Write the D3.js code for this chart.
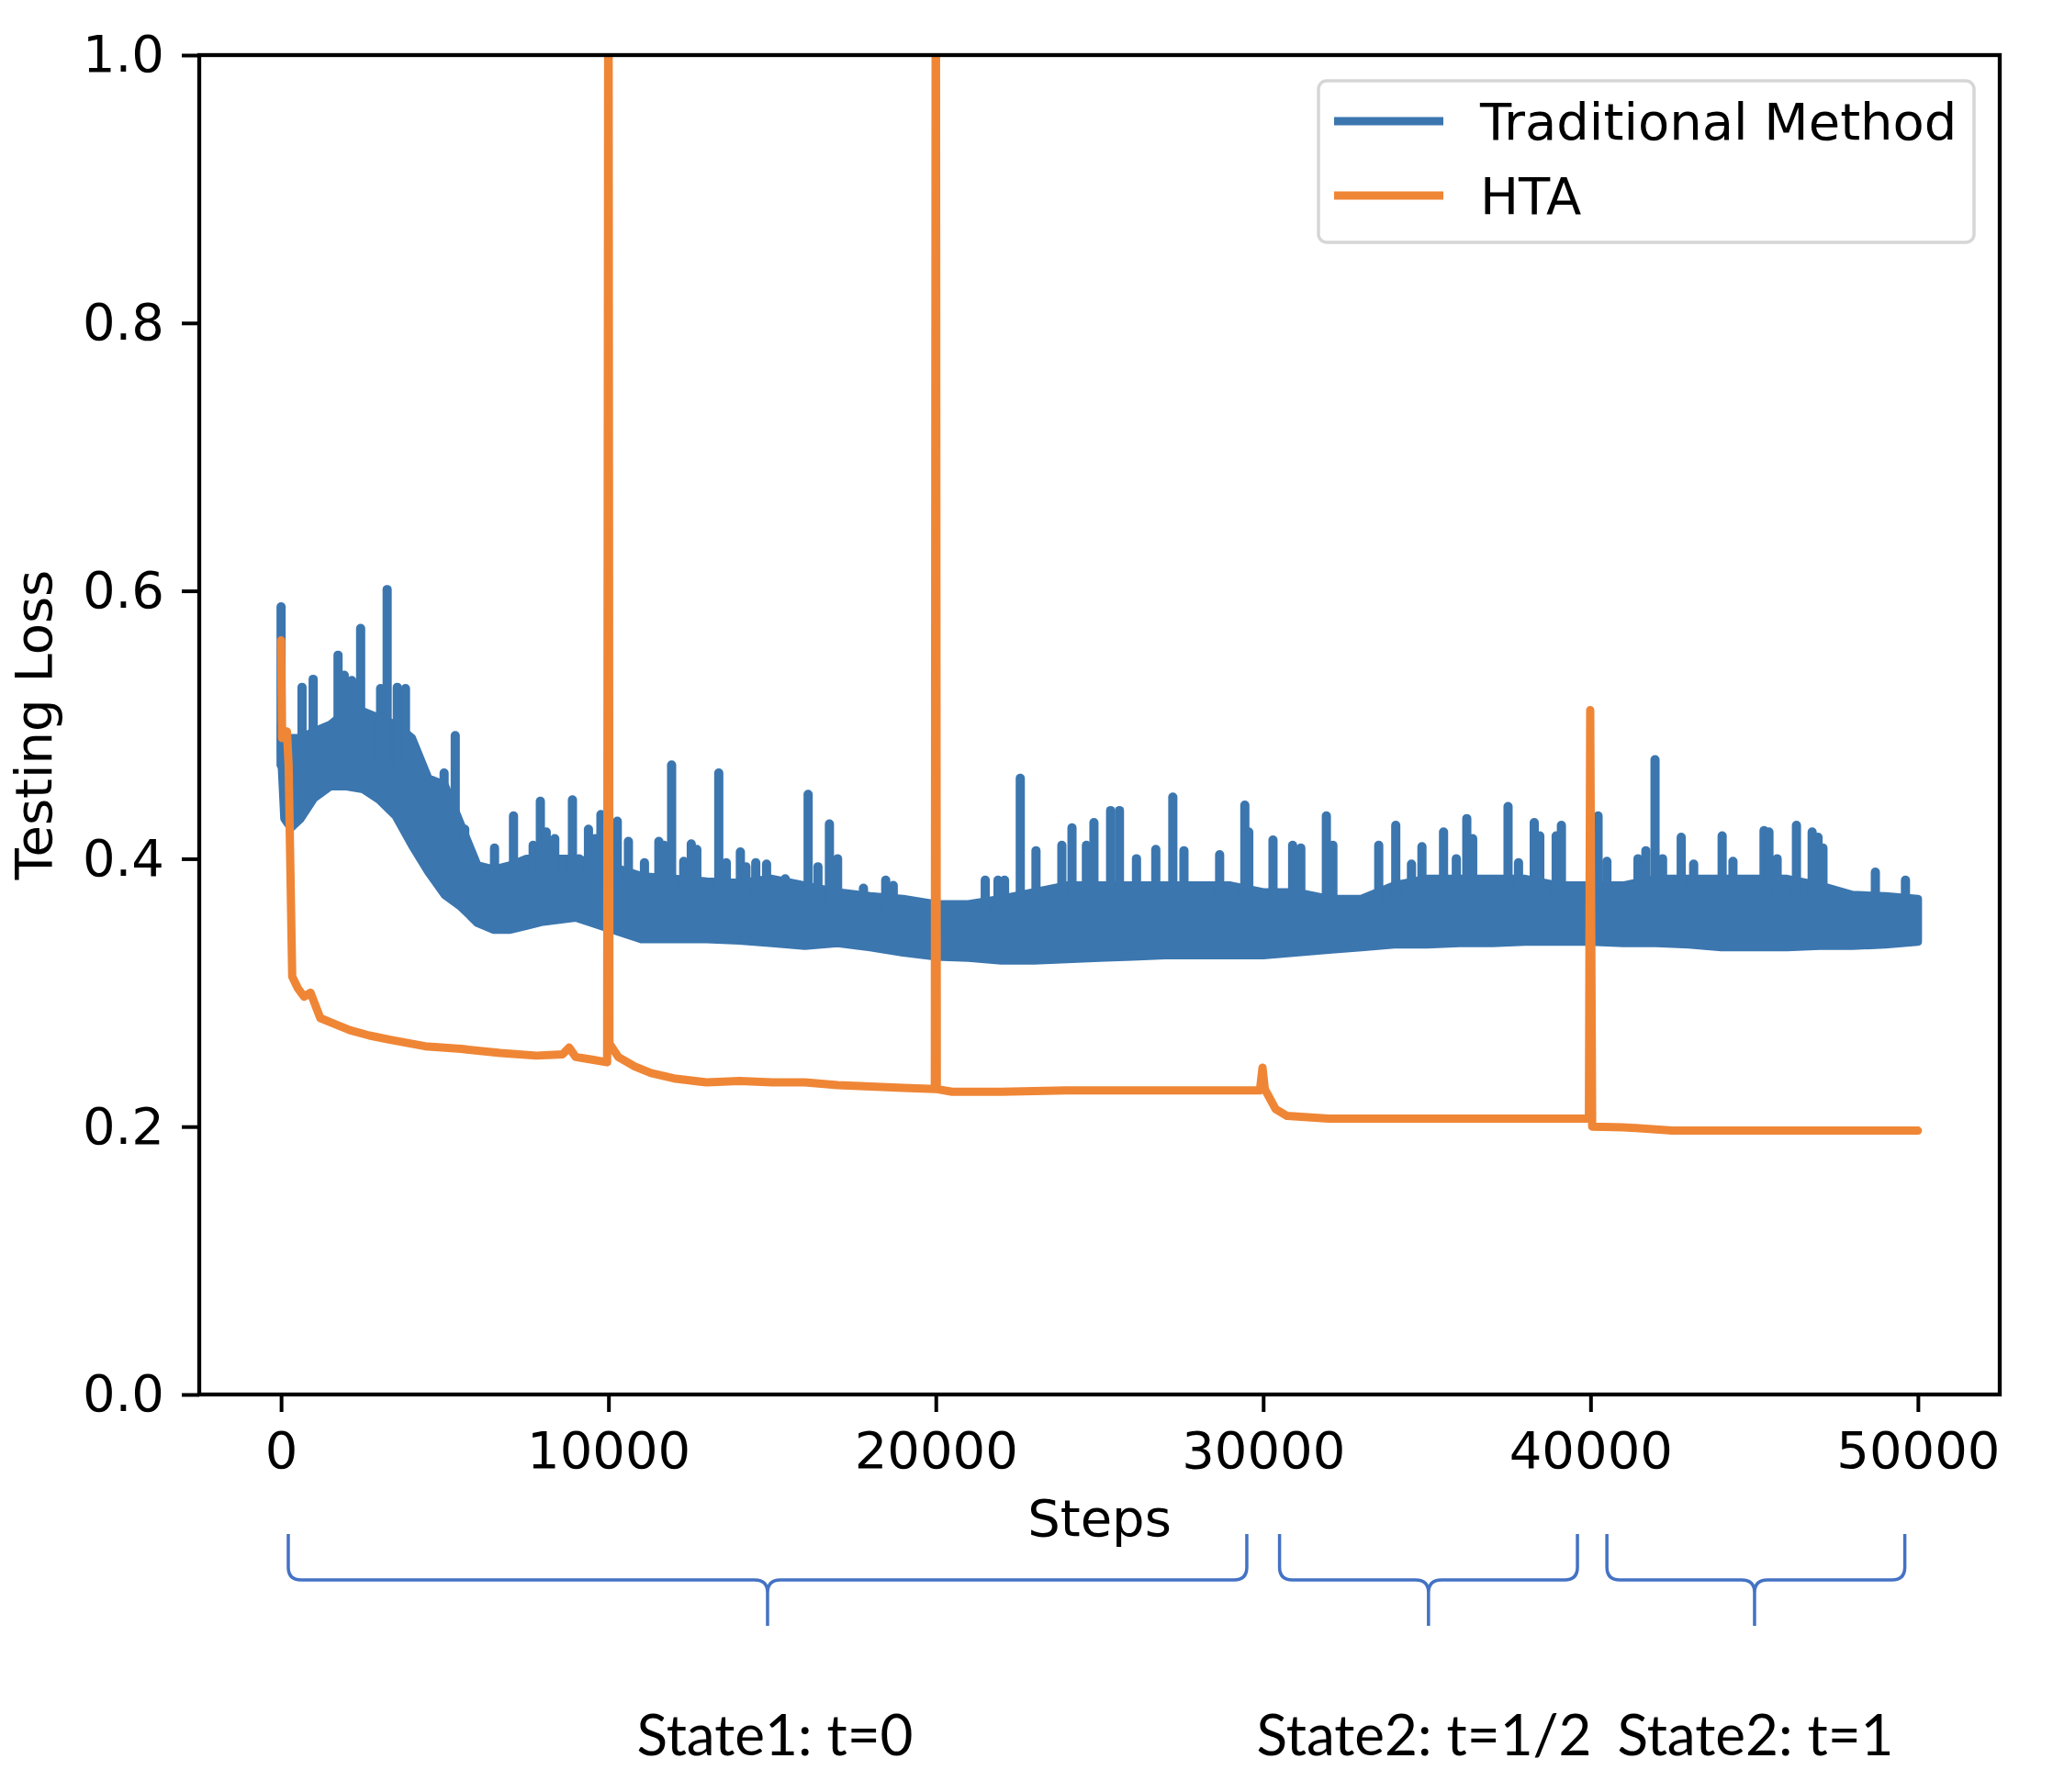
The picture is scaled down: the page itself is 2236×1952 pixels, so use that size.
<!DOCTYPE html>
<html>
<head>
<meta charset="utf-8">
<script src="https://cdn.jsdelivr.net/npm/d3@7"></script>
<style>
  body { margin: 0; background: #fff; }
  svg { display: block; }
</style>
</head>
<body>
<svg id="chart" width="2236" height="1952"></svg>
<script>
// ---- data ----
// blue (Traditional Method): dense noisy band, stored as lower edge / upper body edge
const bandSteps = [0, 100, 300, 600, 1000, 1500, 2000, 2500, 3000, 3500, 4000, 4500, 5000, 5500, 6000, 6500, 7000, 7500, 8000, 9000,
  10000, 11000, 12000, 13000, 14000, 15000, 16000, 17000, 18000, 19000, 20000, 21000, 22000, 23000, 24000, 25000, 26000, 27000,
  28000, 29000, 30000, 31000, 32000, 33000, 34000, 35000, 36000, 37000, 38000, 39000, 40000, 41000, 42000, 43000, 44000, 45000,
  46000, 47000, 48000, 49000, 50000];
const blueLow = [0.48, 0.43, 0.423, 0.43, 0.445, 0.454, 0.454, 0.452, 0.444, 0.432, 0.41, 0.39, 0.373, 0.364, 0.352, 0.347, 0.347, 0.35, 0.353, 0.356,
  0.348, 0.34, 0.34, 0.34, 0.339, 0.337, 0.335, 0.337, 0.334, 0.33, 0.327, 0.326, 0.324, 0.324, 0.325, 0.326, 0.327, 0.328,
  0.328, 0.328, 0.328, 0.33, 0.332, 0.334, 0.336, 0.336, 0.337, 0.337, 0.338, 0.338, 0.338, 0.337, 0.337, 0.336, 0.334, 0.334,
  0.334, 0.335, 0.335, 0.336, 0.338];
const blueTop = [0.50, 0.48, 0.49, 0.49, 0.495, 0.50, 0.51, 0.51, 0.505, 0.50, 0.49, 0.46, 0.455, 0.425, 0.395, 0.392, 0.395, 0.40, 0.40, 0.40,
  0.395, 0.387, 0.385, 0.383, 0.382, 0.385, 0.38, 0.375, 0.372, 0.37, 0.366, 0.366, 0.37, 0.375, 0.38, 0.38, 0.38, 0.38,
  0.38, 0.38, 0.375, 0.375, 0.37, 0.37, 0.38, 0.385, 0.385, 0.385, 0.385, 0.38, 0.38, 0.38, 0.385, 0.385, 0.385, 0.385,
  0.385, 0.38, 0.373, 0.372, 0.37];
// blue spikes above the band
const spikeSteps = [0, 640, 980, 1740, 1930, 2160, 2430, 3040, 3240, 3550, 3800, 4980, 5320, 5610, 6520, 7100, 7700, 7920, 8100, 8360,
  8900, 9100, 9390, 9600, 9770, 10270, 10610, 11100, 11540, 11700, 11930, 12300, 12530, 12700, 13370, 13600, 14030, 14200, 14500,
  14830, 15400, 16100, 16400, 16750, 17000, 17790, 18470, 18700, 21510, 21900, 22100,
  22580, 23060, 23850, 24160, 24600, 24830, 25340, 25610, 26130, 26720, 27240, 27580, 28670, 29440, 29560, 30300, 30900, 31150,
  31930, 32130, 33530, 34050, 34530, 34850, 35510, 35900, 36220, 36400, 37480, 37800, 38280, 38450, 38950, 39110, 40230, 40500,
  41450, 41690, 41970, 42200, 42770, 43150, 44020, 44350, 45300, 45450, 45700, 46290, 46770, 46950, 47100, 48700, 49620];
const spikePeaks = [0.588, 0.528, 0.534, 0.552, 0.537, 0.533, 0.572, 0.527, 0.601, 0.528, 0.527, 0.464, 0.492, 0.422, 0.408, 0.432, 0.41, 0.443, 0.42, 0.415,
  0.444, 0.40, 0.422, 0.415, 0.433, 0.428, 0.413, 0.397, 0.413, 0.41, 0.47, 0.398, 0.411, 0.407, 0.464, 0.397, 0.405, 0.394, 0.397,
  0.396, 0.385, 0.448, 0.394, 0.426, 0.40, 0.378, 0.384, 0.38, 0.384, 0.384, 0.384,
  0.46, 0.406, 0.41, 0.423, 0.41, 0.427, 0.436, 0.436, 0.40, 0.407, 0.446, 0.406, 0.403, 0.44, 0.42, 0.414, 0.41, 0.408,
  0.432, 0.41, 0.41, 0.425, 0.396, 0.409, 0.42, 0.40, 0.43, 0.415, 0.439, 0.397, 0.427, 0.417, 0.417, 0.425, 0.432, 0.398,
  0.40, 0.406, 0.474, 0.40, 0.416, 0.396, 0.417, 0.398, 0.421, 0.42, 0.40, 0.425, 0.42, 0.416, 0.408, 0.39, 0.384];
// orange (HTA)
const orangeSteps = [0, 30, 180, 230, 340, 520, 700, 900, 1200, 1600, 2100, 2700, 3300, 4400, 5500, 6700, 7800, 8600, 8800, 9000,
  9500, 9960, 10000, 10030, 10300, 10800, 11300, 12000, 13000, 14000, 15000, 16000, 17000, 18000, 19000, 19970, 20000, 20030,
  20500, 22000, 24000, 26000, 28000, 29900, 29980, 30050, 30380, 30730, 32000, 35000, 38000, 39950, 39990, 40050, 41000,
  42500, 45000, 50000];
const orangeLoss = [0.563, 0.49, 0.495, 0.47, 0.312, 0.303, 0.297, 0.30, 0.281, 0.277, 0.272, 0.268, 0.265, 0.26, 0.258, 0.255, 0.253, 0.254, 0.259, 0.252,
  0.25, 0.248, 1.2, 0.262, 0.252, 0.245, 0.24, 0.236, 0.233, 0.234, 0.233, 0.233, 0.231, 0.23, 0.229, 0.228, 1.2, 0.228,
  0.226, 0.226, 0.227, 0.227, 0.227, 0.227, 0.244, 0.228, 0.213, 0.208, 0.206, 0.206, 0.206, 0.206, 0.511, 0.200, 0.1995,
  0.197, 0.197, 0.197];

const xTicks = [0, 10000, 20000, 30000, 40000, 50000];
const yTicks = [0.0, 0.2, 0.4, 0.6, 0.8, 1.0];
const seriesNames = ["Traditional Method", "HTA"];
const seriesColors = ["#3b76af", "#ef8636"];

// phase annotations under the axis
const phaseStart = [220, 30500, 40500];
const phaseEnd = [29500, 39600, 49600];
const phaseMid = [14860, 35050, 45010];
const phaseLabels = ["State1: t=0", "State2: t=1/2", "State2: t=1"];

// ---- layout ----
const plotLeft = 217, plotRight = 2178, plotTop = 60, plotBottom = 1519;
const lw = 9;
const font = "DejaVu Sans";
const fontSize = "56px";

const svg = d3.select("#chart");
svg.append("rect").attr("width", 2236).attr("height", 1952).attr("fill", "#fff");

const x = d3.scaleLinear().domain([-2500, 52500]).range([plotLeft, plotRight]);
const y = d3.scaleLinear().domain([0, 1]).range([plotBottom, plotTop]);

svg.append("clipPath").attr("id", "plotclip")
  .append("rect").attr("x", plotLeft).attr("y", plotTop)
  .attr("width", plotRight - plotLeft).attr("height", plotBottom - plotTop);

const plot = svg.append("g").attr("clip-path", "url(#plotclip)");

// blue band
const band = bandSteps.map((s, i) => ({ s: s, lo: blueLow[i], hi: blueTop[i] }));
const area = d3.area().x(d => x(d.s)).y0(d => y(d.lo)).y1(d => y(d.hi));
plot.append("path")
  .attr("d", area(band))
  .attr("fill", seriesColors[0])
  .attr("stroke", seriesColors[0])
  .attr("stroke-width", lw)
  .attr("stroke-linejoin", "round");

// blue spikes, rising from the body of the band
const bodyAt = d3.scaleLinear().domain(bandSteps).range(blueTop);
plot.append("g").selectAll("line")
  .data(spikeSteps.map((s, i) => ({ s: s, v: spikePeaks[i] })))
  .join("line")
  .attr("x1", d => x(d.s)).attr("x2", d => x(d.s))
  .attr("y1", d => y(Math.min(bodyAt(d.s), blueLow[0]) - 0.01))
  .attr("y2", d => y(d.v))
  .attr("stroke", seriesColors[0])
  .attr("stroke-width", 10)
  .attr("stroke-linecap", "round");

// orange line
const orange = orangeSteps.map((s, i) => ({ s: s, v: orangeLoss[i] }));
plot.append("path")
  .attr("d", d3.line().x(d => x(d.s)).y(d => y(d.v))(orange))
  .attr("fill", "none")
  .attr("stroke", seriesColors[1])
  .attr("stroke-width", lw)
  .attr("stroke-linejoin", "round")
  .attr("stroke-linecap", "round");

// axes
const xAxis = svg.append("g")
  .attr("transform", "translate(0," + plotBottom + ")")
  .call(d3.axisBottom(x).tickValues(xTicks).tickFormat(d3.format("d")).tickSizeOuter(0).tickSize(19).tickPadding(21));
const yAxis = svg.append("g")
  .attr("transform", "translate(" + plotLeft + ",0)")
  .call(d3.axisLeft(y).tickValues(yTicks).tickFormat(d3.format(".1f")).tickSizeOuter(0).tickSize(19).tickPadding(19));

[xAxis, yAxis].forEach(g => {
  g.select(".domain").remove();
  g.selectAll(".tick line").attr("stroke", "#000").attr("stroke-width", 4);
  g.selectAll(".tick text").attr("fill", "#000").style("font-family", font).style("font-size", fontSize);
});

// frame
svg.append("rect")
  .attr("x", plotLeft).attr("y", plotTop)
  .attr("width", plotRight - plotLeft).attr("height", plotBottom - plotTop)
  .attr("fill", "none").attr("stroke", "#000").attr("stroke-width", 4.3);

// axis labels
svg.append("text")
  .attr("x", (plotLeft + plotRight) / 2).attr("y", 1673)
  .attr("text-anchor", "middle")
  .style("font-family", font).style("font-size", fontSize)
  .text("Steps");
svg.append("text")
  .attr("transform", "translate(56," + (plotTop + plotBottom) / 2 + ") rotate(-90)")
  .attr("text-anchor", "middle")
  .style("font-family", font).style("font-size", fontSize)
  .text("Testing Loss");

// legend
const legend = svg.append("g");
legend.append("rect")
  .attr("x", 1436).attr("y", 88).attr("width", 714).attr("height", 176)
  .attr("rx", 9)
  .attr("fill", "#fff").attr("stroke", "#d6d6d6").attr("stroke-width", 3.5);
seriesNames.forEach((name, i) => {
  const ly = 132 + i * 81;
  legend.append("line")
    .attr("x1", 1453).attr("x2", 1572).attr("y1", ly).attr("y2", ly)
    .attr("stroke", seriesColors[i]).attr("stroke-width", lw);
  legend.append("text")
    .attr("x", 1612).attr("y", ly + 20)
    .style("font-family", font).style("font-size", fontSize)
    .text(name);
});

// phase braces
const braceColor = "#4472c4";
const yT = 1671, yM = 1721, yB = 1771, r = 14;
phaseLabels.forEach((label, i) => {
  const x1 = x(phaseStart[i]), x2 = x(phaseEnd[i]), xc = x(phaseMid[i]);
  const p = d3.path();
  p.moveTo(x1, yT);
  p.lineTo(x1, yM - r);
  p.quadraticCurveTo(x1, yM, x1 + r, yM);
  p.lineTo(xc - r, yM);
  p.quadraticCurveTo(xc, yM, xc, yM + r);
  p.lineTo(xc, yB);
  p.moveTo(x2, yT);
  p.lineTo(x2, yM - r);
  p.quadraticCurveTo(x2, yM, x2 - r, yM);
  p.lineTo(xc + r, yM);
  p.quadraticCurveTo(xc, yM, xc, yM + r);
  svg.append("path")
    .attr("d", p.toString())
    .attr("fill", "none")
    .attr("stroke", braceColor)
    .attr("stroke-width", 3.5);
});

const labelX = [844, 1551, 1912];
phaseLabels.forEach((label, i) => {
  svg.append("text")
    .attr("x", labelX[i]).attr("y", 1912)
    .attr("text-anchor", "middle")
    .style("font-family", "Lato").style("font-size", "62px")
    .text(label);
});
</script>
</body>
</html>
